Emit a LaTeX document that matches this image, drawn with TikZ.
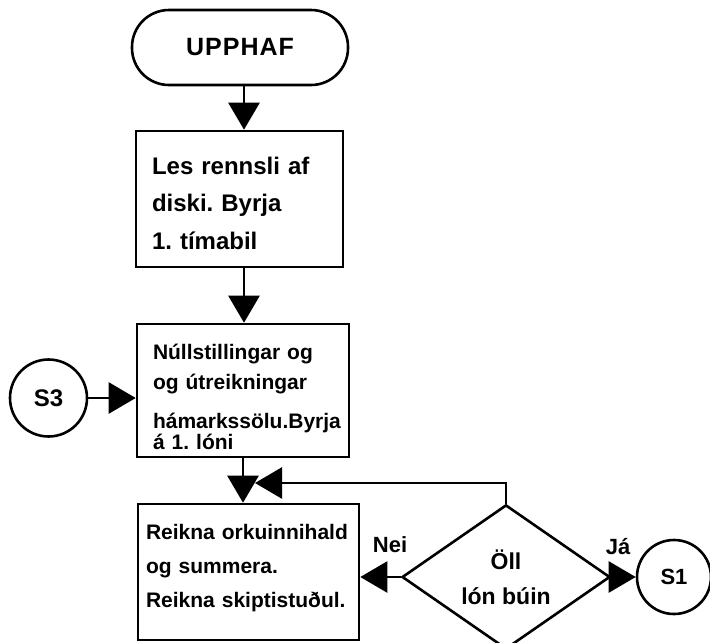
\documentclass[tikz,border=0pt]{standalone}
\usepackage{fontspec}
\setmainfont{Liberation Sans}
\usetikzlibrary{arrows.meta,shapes.geometric}
\begin{document}
\frenchspacing
\hyphenpenalty=10000
\begin{tikzpicture}[x=1pt,y=-1pt,
  line width=2.6pt,
  every node/.style={font=\bfseries, line width=2.6pt},
  arr/.style={-{Triangle[length=27pt,width=31pt]}},
  terminal/.style={draw, rectangle, rounded corners=37pt, minimum width=216pt, minimum height=75pt},
  procbox/.style={draw, rectangle, align=left, inner ysep=0pt},
  connector/.style={draw, circle, inner sep=0pt},
  decision/.style={draw, diamond, inner sep=0pt, align=center, minimum width=208pt, minimum height=133pt},
  tag/.style={inner sep=0pt, font=\bfseries\fontsize{22}{22}\selectfont}
]
\useasboundingbox (0,0) rectangle (710,643);

% start terminal
\node[terminal, font=\bfseries\fontsize{25}{25}\selectfont] (start) at (240,47.5)
  {\addfontfeature{LetterSpace=4}UPPHAF};

% read flow data
\node[procbox, text width=175pt, inner xsep=16pt, minimum height=136pt,
      font=\bfseries\fontsize{24}{37.5}\selectfont] (read) at (239.5,199)
  {\rule{0pt}{26pt}Les rennsli af\\diski. Byrja\\1. tímabil};

% reset and maximum sales
\node[procbox, text width=180pt, inner xsep=16pt, minimum height=133pt,
      font=\bfseries\fontsize{21}{30}\selectfont] (reset) at (243,390.5)
  {\rule{0pt}{28pt}Núllstillingar og\\og útreikningar\\[9pt]hámarkssölu.Byrja\\[-9pt]á 1. lóni};

% energy content per reservoir
\node[procbox, text width=205pt, inner xsep=8pt, minimum height=136pt,
      font=\bfseries\fontsize{21}{34}\selectfont] (calc) at (248.5,572)
  {Reikna orkuinnihald\\og summera.\\Reikna skiptistuðul.\rule[-11.5pt]{0pt}{1pt}};

% decision: all reservoirs done
\node[decision, font=\bfseries\fontsize{23}{35}\selectfont] (done) at (506,577)
  {Öll\\lón búin};

% off-page connectors
\node[connector, minimum size=77pt, font=\bfseries\fontsize{24}{24}\selectfont] (s3) at (48.5,398) {S3};
\node[connector, minimum size=74pt, font=\bfseries\fontsize{22}{22}\selectfont] (s1) at (674,577) {S1};

% branch labels
\node[tag] (nei) at (390,545) {Nei};
\node[tag] (ja) at (618,547) {Já};

\coordinate (loop) at (255,483);

% connections
\draw[arr] ([xshift=4pt]start.south) -- ([xshift=4pt]start.south |- read.north);
\draw[arr] ([xshift=4.5pt]read.south) -- ([xshift=4.5pt]read.south |- reset.north);
\draw[arr] (s3.east) -- (s3.east -| reset.west);
\draw[arr] (reset.south) -- (reset.south |- calc.north);
\draw[arr] (done.north) |- (loop);
\draw[arr] (done.west) -- (done.west -| calc.east);
\draw[arr] (done.east) -- (s1.west);
\end{tikzpicture}
\end{document}
